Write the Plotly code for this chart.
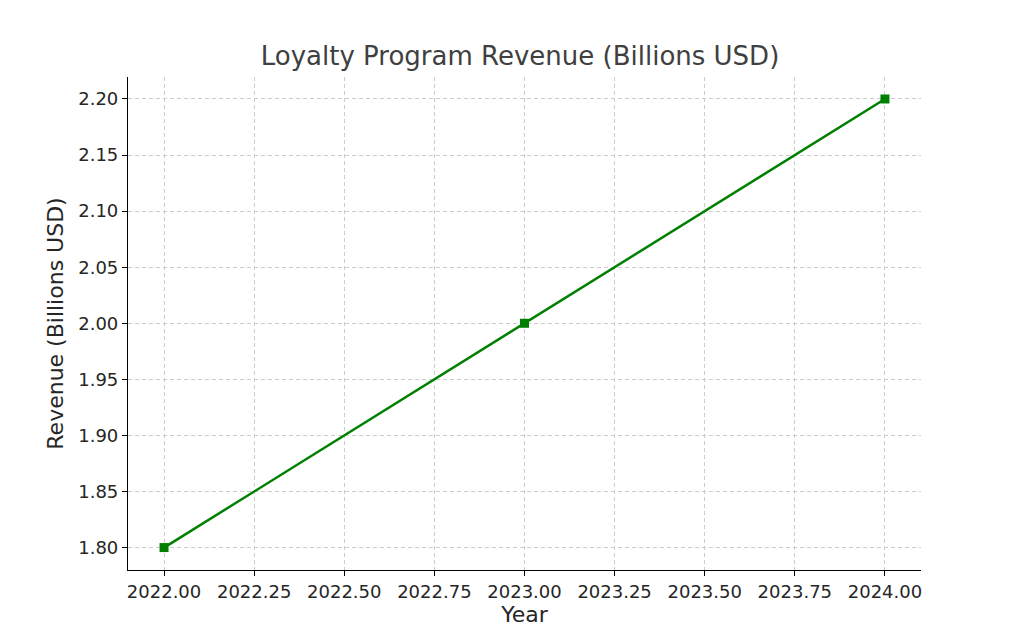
import plotly.graph_objects as go

years = [2022, 2023, 2024]
revenue = [1.80, 2.00, 2.20]

x_ticks = [2022 + 0.25 * i for i in range(9)]
y_ticks = [1.80 + 0.05 * i for i in range(9)]

fig = go.Figure(go.Scatter(
    x=years, y=revenue, mode="lines+markers",
    line=dict(color="green", width=2.5),
    marker=dict(symbol="square", size=9, color="green"),
))

fig.update_layout(
    width=1024, height=640, autosize=False,
    margin=dict(l=120, r=111, t=69, b=78),
    paper_bgcolor="white", plot_bgcolor="white",
    font=dict(family="DejaVu Sans", size=18, color="#262626"),
    title=dict(text="Loyalty Program Revenue (Billions USD)", x=0.5, xanchor="center",
               y=0.925, yanchor="middle", font=dict(size=26, color="#404040")),
    showlegend=False,
)

# Axis layout
grid = dict(showgrid=True, gridcolor="#cccccc", griddash="4px,3px", gridwidth=1,
            showline=True, linecolor="black", linewidth=1.2,
            ticks="outside", ticklen=5, tickcolor="black", zeroline=False)
fig.update_xaxes(range=[2021.9, 2024.1], tickvals=x_ticks, tickformat=".2f",
                 title_text="Year", title_standoff=4, **grid)
fig.update_yaxes(range=[1.78, 2.2196], tickvals=y_ticks, tickformat=".2f",
                 title_text="Revenue (Billions USD)", title_standoff=8, **grid)

fig.write_html("out.html")
